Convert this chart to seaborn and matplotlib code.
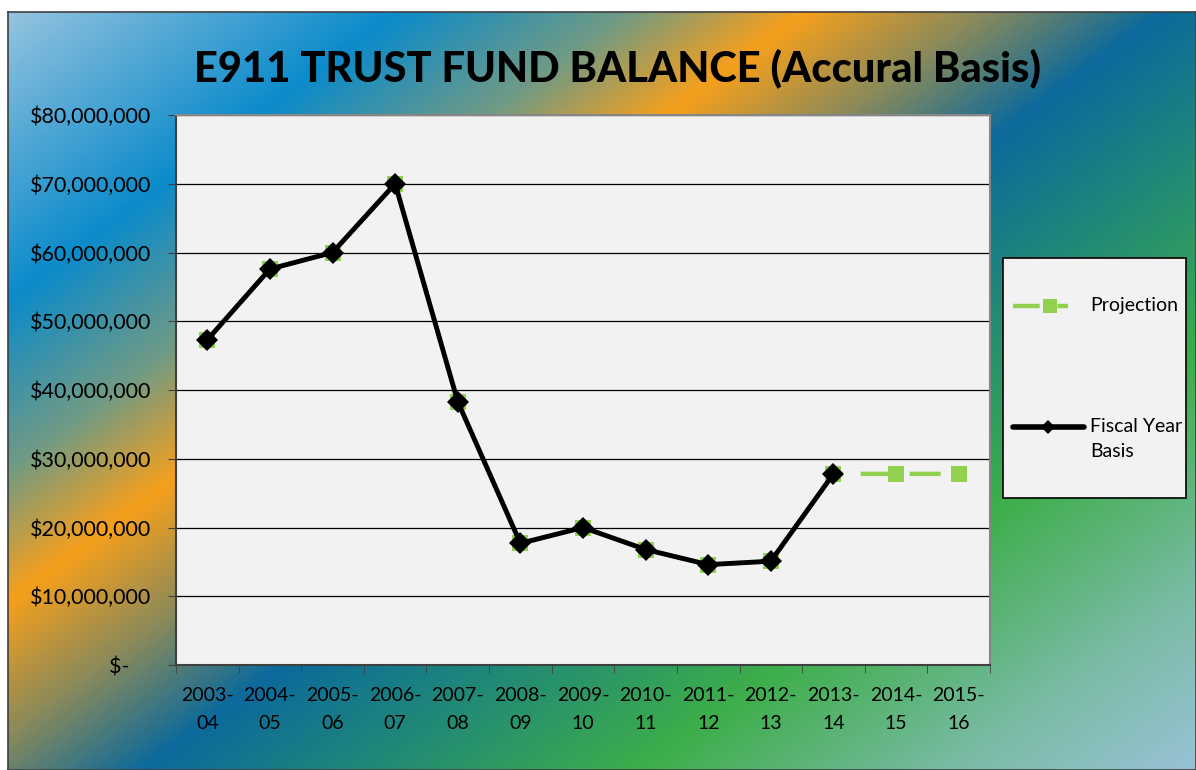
import numpy as np
import pandas as pd
import matplotlib
matplotlib.use('Agg')
import matplotlib.pyplot as plt
from matplotlib.colors import LinearSegmentedColormap
from matplotlib.ticker import FuncFormatter, FixedLocator
from matplotlib.patches import Rectangle
from matplotlib.lines import Line2D
import seaborn as sns

years = ["2003-\n04", "2004-\n05", "2005-\n06", "2006-\n07", "2007-\n08", "2008-\n09",
         "2009-\n10", "2010-\n11", "2011-\n12", "2012-\n13", "2013-\n14", "2014-\n15", "2015-\n16"]
fiscal = [47.3e6, 57.6e6, 60.0e6, 70.0e6, 38.3e6, 17.7e6, 20.0e6, 16.8e6, 14.6e6, 15.1e6, 27.8e6]
projection = [47.3e6, 57.6e6, 60.0e6, 70.0e6, 38.3e6, 17.7e6, 20.0e6, 16.8e6, 14.6e6, 15.1e6,
              27.8e6, 27.8e6, 27.8e6]

sns.set_style('white')
plt.rcParams['font.family'] = ['Lato', 'DejaVu Sans']
plt.rcParams['text.color'] = 'black'
plt.rcParams['xtick.color'] = 'black'
plt.rcParams['ytick.color'] = 'black'

fig = plt.figure(figsize=(11.96, 7.7), dpi=100)

# gradient background
bg = fig.add_axes([8 / 1196, 0, 1 - 8 / 1196, 1 - 12 / 770])
W, H = 1188, 758
xx, yy = np.meshgrid(np.arange(W) + 8, np.arange(H) + 12)
t = (xx + 1.35 * yy) / 2270.0
stops = [(0.0, '#9cc6e0'), (0.18, '#0b8bcb'), (0.28, '#6e9a86'), (0.36, '#f6a01c'),
         (0.44, '#8a8a5a'), (0.52, '#0b6a9c'), (0.74, '#3dae4a'), (0.88, '#7bbba6'), (1.0, '#9cc3dc')]
cmap = LinearSegmentedColormap.from_list('bg', stops)
bg.imshow(t, cmap=cmap, vmin=0, vmax=1, aspect='auto', interpolation='bilinear')
bg.set_xticks([])
bg.set_yticks([])
for s in bg.spines.values():
    s.set_color('#404040')
    s.set_linewidth(1.2)

ax = fig.add_axes([176 / 1196, 1 - 665 / 770, 814 / 1196, 550 / 770])
ax.set_facecolor('#f2f2f2')

x = np.arange(len(years))
df_proj = pd.DataFrame({'x': x, 'val': projection})
df_fis = pd.DataFrame({'x': x[:len(fiscal)], 'val': fiscal})

sns.lineplot(data=df_proj, x='x', y='val', ax=ax, color='#92d050', lw=3.2,
             marker='s', markersize=11, markeredgewidth=0, legend=False, zorder=3)
ax.lines[-1].set_dashes([7, 4])
sns.lineplot(data=df_fis, x='x', y='val', ax=ax, color='black', lw=3.5,
             marker='D', markersize=11, markeredgewidth=0, legend=False, zorder=4)

ax.set_xlim(-0.5, len(years) - 0.5)
ax.set_ylim(0, 80e6)
ax.set_yticks(np.arange(0, 80e6 + 1, 10e6))
ax.yaxis.set_major_formatter(FuncFormatter(lambda v, p: '$-    ' if v == 0 else '${:,.0f}'.format(v)))
ax.yaxis.grid(True, color='black', lw=0.9)
ax.set_axisbelow(True)
ax.set_xticks(x)
ax.set_xticklabels(years, fontsize=14, linespacing=1.75)
ax.xaxis.set_minor_locator(FixedLocator(np.arange(-0.5, len(years), 1.0)))
ax.tick_params(axis='x', which='major', length=0, pad=16)
ax.tick_params(axis='x', which='minor', length=6, color='#404040', direction='out', bottom=True)
ax.tick_params(axis='y', length=6, color='#404040', direction='out', left=True, labelsize=15.5, pad=12)
ax.set_xlabel('')
ax.set_ylabel('')
for name, s in ax.spines.items():
    s.set_color('#868686')
    s.set_linewidth(1.5)
ax.spines['left'].set_color('#404040')
ax.spines['bottom'].set_color('#404040')

fig.text(617 / 1196, 1 - 68 / 770, 'E911 TRUST FUND BALANCE (Accural Basis)',
         ha='center', va='center', fontsize=30, fontweight='black', color='black')

# legend box
def fx(px):
    return px / 1196

def fy(py):
    return 1 - py / 770

fig.patches.append(Rectangle((fx(1003), fy(498)), fx(1186) - fx(1003), fy(258) - fy(498),
                             transform=fig.transFigure, facecolor='#f2f2f2',
                             edgecolor='black', lw=1.2, zorder=5))
proj_h = Line2D([fx(1013), fx(1068)], [fy(306), fy(306)], transform=fig.transFigure,
                color='#92d050', lw=3.2, dashes=[6, 4], zorder=6)
proj_m = Line2D([fx(1050)], [fy(306)], transform=fig.transFigure, color='#92d050',
                marker='s', markersize=10, markeredgewidth=0, zorder=6)
fis_h = Line2D([fx(1013), fx(1084)], [fy(427), fy(427)], transform=fig.transFigure,
               color='black', lw=4, solid_capstyle='round', zorder=6)
fis_m = Line2D([fx(1048)], [fy(427)], transform=fig.transFigure, color='black',
               marker='D', markersize=7, markeredgewidth=0, zorder=6)
fig.lines.extend([proj_h, proj_m, fis_h, fis_m])
fig.text(fx(1090), fy(306), 'Projection', fontsize=14, va='center', ha='left', zorder=7)
fig.text(fx(1090), fy(439), 'Fiscal Year\nBasis', fontsize=14, va='center', ha='left',
         linespacing=1.55, zorder=7)

fig.savefig('out.png', dpi=100)
